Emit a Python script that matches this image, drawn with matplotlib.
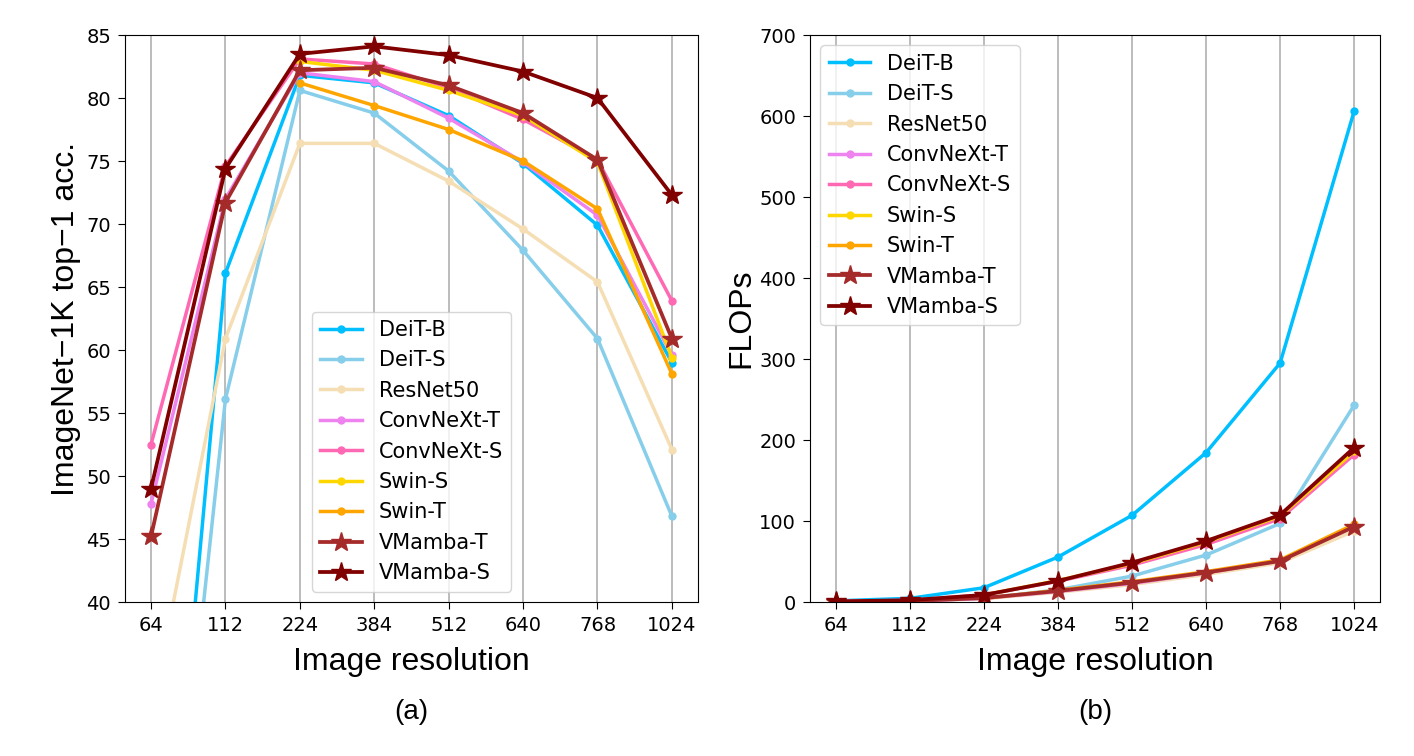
import numpy as np
import matplotlib.pyplot as plt

# --- data ---
resolutions = ['64', '112', '224', '384', '512', '640', '768', '1024']
models = ['DeiT-B', 'DeiT-S', 'ResNet50', 'ConvNeXt-T', 'ConvNeXt-S',
          'Swin-S', 'Swin-T', 'VMamba-T', 'VMamba-S']
colors = ['deepskyblue', 'skyblue', 'wheat', 'violet', 'hotpink',
          'gold', 'orange', 'brown', 'maroon']

nan = np.nan

# ImageNet-1K top-1 accuracy
acc_deit_b = [1.7, 66.1, 81.8, 81.2, 78.6, 74.8, 69.9, 59.0]
acc_deit_s = [1.1, 56.1, 80.6, 78.8, 74.2, 67.9, 60.9, 46.8]
acc_resnet50 = [31.0, 60.9, 76.4, 76.4, 73.4, 69.6, 65.4, 52.1]
acc_convnext_t = [47.8, 72.0, 82.0, 81.3, 78.4, 74.9, 70.7, 59.6]
acc_convnext_s = [52.5, 74.6, 83.1, 82.7, 80.8, 78.3, 75.1, 63.9]
acc_swin_s = [nan, nan, 82.9, 82.2, 80.6, 78.6, 74.9, 59.4]
acc_swin_t = [nan, nan, 81.2, 79.4, 77.5, 75.0, 71.2, 58.1]
acc_vmamba_t = [45.2, 71.7, 82.2, 82.4, 81.0, 78.8, 75.1, 60.9]
acc_vmamba_s = [49.0, 74.4, 83.5, 84.1, 83.4, 82.1, 80.0, 72.3]

# FLOPs (G)
flops_deit_b = [1.4, 4.5, 17.6, 55.5, 107, 184.4, 295, 606]
flops_deit_s = [0.4, 1.2, 4.6, 15.0, 32, 58, 97, 243]
flops_resnet50 = [0.35, 1.0, 4.1, 12.0, 21.5, 34, 48.5, 87.7]
flops_convnext_t = [0.4, 1.1, 4.5, 13.0, 23, 36, 51, 94]
flops_convnext_s = [0.7, 2.2, 8.7, 25.6, 45.5, 71, 103, 182]
flops_swin_s = [nan, nan, 8.7, 26.5, 47.5, 74, 106, 186]
flops_swin_t = [nan, nan, 4.5, 14.5, 25, 37.5, 52, 96]
flops_vmamba_t = [0.4, 1.2, 4.9, 13.6, 24, 36.3, 50.6, 93]
flops_vmamba_s = [0.7, 2.2, 8.7, 26, 48.6, 75.3, 107.4, 190.6]

acc = [acc_deit_b, acc_deit_s, acc_resnet50, acc_convnext_t, acc_convnext_s,
       acc_swin_s, acc_swin_t, acc_vmamba_t, acc_vmamba_s]
flops = [flops_deit_b, flops_deit_s, flops_resnet50, flops_convnext_t,
         flops_convnext_s, flops_swin_s, flops_swin_t, flops_vmamba_t,
         flops_vmamba_s]

label_font = 'Liberation Sans'

fig = plt.figure(figsize=(14.14, 7.56), dpi=100)
ax1 = fig.add_axes([0.0884, 0.2037, 0.4052, 0.75])
ax2 = fig.add_axes([0.5728, 0.2037, 0.4032, 0.75])

x = np.arange(len(resolutions))


def draw(ax, series):
    for name, vals, c in zip(models, series, colors):
        if name.startswith('VMamba'):
            ax.plot(x, vals, color=c, lw=2.7, marker='*', ms=15, label=name)
        else:
            ax.plot(x, vals, color=c, lw=2.5, marker='o', ms=5, label=name)
    ax.set_xticks(x)
    ax.set_xticklabels(resolutions)
    ax.tick_params(labelsize=14, length=5, pad=5)
    ax.grid(axis='x', color='#b0b0b0', lw=1.2)
    ax.set_axisbelow(True)
    ax.set_xlabel('Image resolution', fontsize=23, family=label_font, labelpad=9)


draw(ax1, acc)
ax1.set_ylim(40, 85)
ax1.set_ylabel('ImageNet\u22121K top\u22121 acc.', fontsize=23, family=label_font)
ax1.legend(loc='lower center', fontsize=15)

draw(ax2, flops)
ax2.set_ylim(0, 700)
ax2.set_ylabel('FLOPs', fontsize=23, family=label_font, labelpad=2)
ax2.legend(loc='upper left', fontsize=15)

fig.text(0.2910, 0.058, '(a)', ha='center', va='center', fontsize=20, family=label_font)
fig.text(0.7744, 0.058, '(b)', ha='center', va='center', fontsize=20, family=label_font)

fig.savefig('out.png', dpi=100)
